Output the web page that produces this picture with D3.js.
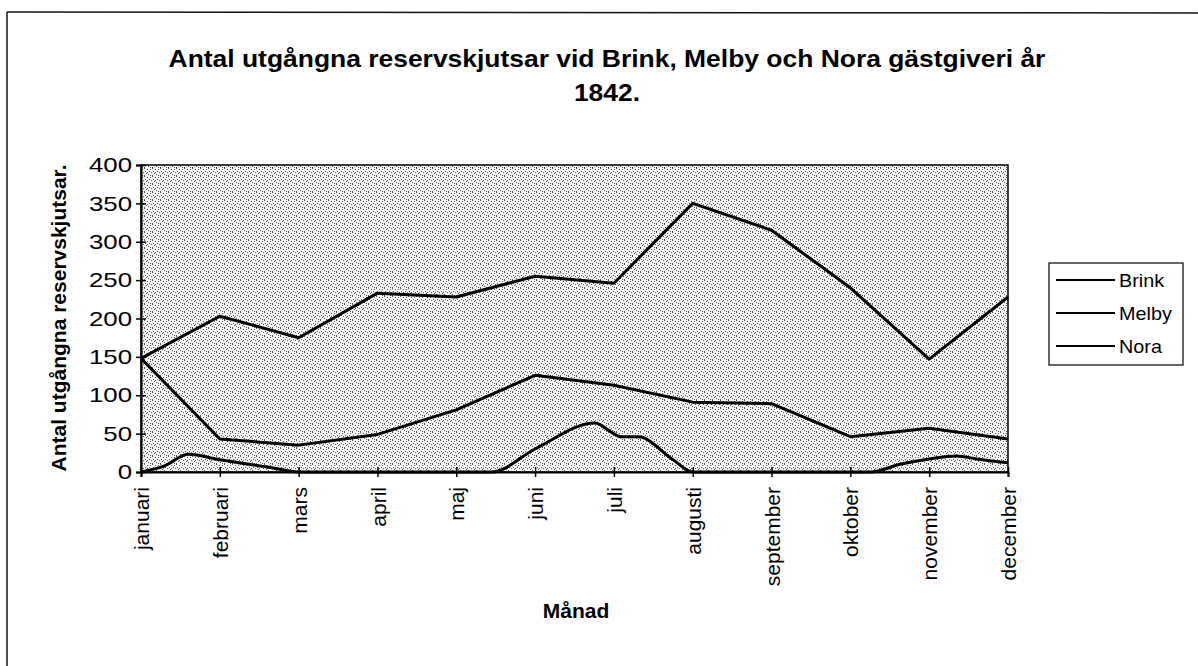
<!DOCTYPE html>
<html>
<head>
<meta charset="utf-8">
<script src="https://cdn.jsdelivr.net/npm/d3@7"></script>
<style>
  body { margin: 0; background: #fff; }
  text { font-family: Arial, "Liberation Sans", sans-serif; fill: #000; }
</style>
</head>
<body>
<script>
// months on the x axis
const months = ["januari", "februari", "mars", "april", "maj", "juni",
                "juli", "augusti", "september", "oktober", "november", "december"];
const yTicks = [0, 50, 100, 150, 200, 250, 300, 350, 400];

// monthly values
const brink = [148, 203, 175, 233, 228, 255, 246, 350, 315, 240, 147, 228];
const melby = [148, 43, 35, 49, 81, 126, 113, 91, 89, 46, 57, 43];

// Nora is drawn through extra points between the months (month index, value)
const noraPos = [0, 0.3, 0.6, 1, 1.64, 2, 3, 4, 4.45, 5, 5.76, 5.98, 6.08, 6.31, 6.75, 7, 8, 9, 9.25, 9.63, 10, 10.35, 10.6, 11];
const noraVal = [0, 8, 23, 16, 6, 0, 0, 0, 0, 30, 64, 51, 46, 46, 16, 0, 0, 0, 0, 10, 17, 21, 17, 12];

const seriesNames = ["Brink", "Melby", "Nora"];

const W = 1198, H = 666;
const plotL = 141, plotR = 1008, plotT = 165, plotB = 472;

const svg = d3.select("body").append("svg")
    .attr("width", W).attr("height", H);

// stipple background pattern (fixed dot layout)
const defs = svg.append("defs");
const pat = defs.append("pattern").attr("id", "stip")
    .attr("width", 8).attr("height", 8).attr("patternUnits", "userSpaceOnUse");
pat.append("rect").attr("width", 8).attr("height", 8).attr("fill", "#f7f7f7");
[[0, 0], [3, 1], [6, 1], [1, 3], [5, 3], [7, 4], [2, 5], [4, 6], [0, 7], [6, 7], [3, 4]].forEach(p => {
    pat.append("rect").attr("x", p[0]).attr("y", p[1])
        .attr("width", 1).attr("height", 1).attr("fill", "#555");
});

// outer frame (only top and left edges show in the scan)
svg.append("line").attr("x1", 7).attr("y1", 12).attr("x2", W).attr("y2", 13)
    .attr("stroke", "#111").attr("stroke-width", 1.5);
svg.append("line").attr("x1", 7).attr("y1", 12).attr("x2", 7).attr("y2", H)
    .attr("stroke", "#111").attr("stroke-width", 1.5);

// title (scan is wider than the font)
const sx = 1.15;
svg.append("text")
    .attr("transform", `scale(${sx},1)`)
    .attr("x", 607 / sx).attr("y", 67)
    .attr("text-anchor", "middle")
    .attr("font-size", 23).attr("font-weight", "bold")
    .text("Antal utgångna reservskjutsar vid Brink, Melby och Nora gästgiveri år");
svg.append("text")
    .attr("transform", `scale(${sx},1)`)
    .attr("x", 607 / sx).attr("y", 101)
    .attr("text-anchor", "middle")
    .attr("font-size", 23).attr("font-weight", "bold")
    .text("1842.");

const xBand = d3.scalePoint().domain(months).range([plotL, plotR]);
const x = d3.scaleLinear().domain([0, months.length - 1]).range([plotL, plotR]);
const y = d3.scaleLinear().domain([0, 400]).range([plotB, plotT]);

// plot area
svg.append("rect")
    .attr("x", plotL).attr("y", plotT)
    .attr("width", plotR - plotL).attr("height", plotB - plotT)
    .attr("fill", "url(#stip)")
    .attr("stroke", "#000").attr("stroke-width", 1.5);

// y axis
const tsx = 1.23;
const gy = svg.append("g").attr("transform", `translate(${plotL},0)`)
    .call(d3.axisLeft(y).tickValues(yTicks).tickSize(5).tickPadding(9));
gy.select(".domain").attr("stroke", "#000").attr("stroke-width", 2);
gy.selectAll(".tick line").attr("x1", 5).attr("stroke-width", 1.5);
gy.selectAll(".tick text")
    .attr("font-size", 21).attr("font-family", "Arial, 'Liberation Sans', sans-serif")
    .attr("x", -9 / tsx).attr("transform", `scale(${tsx},1)`);

// x axis
const gx = svg.append("g").attr("transform", `translate(0,${plotB})`)
    .call(d3.axisBottom(xBand).tickSize(5).tickPadding(14));
gx.select(".domain").attr("stroke", "#000").attr("stroke-width", 2);
gx.selectAll(".tick line").attr("y1", -5).attr("stroke-width", 1.5);
gx.selectAll(".tick text")
    .attr("font-size", 21).attr("font-family", "Arial, 'Liberation Sans', sans-serif")
    .attr("transform", "rotate(-90)")
    .attr("text-anchor", "end")
    .attr("x", -15).attr("y", 0).attr("dy", "0.36em");

// axis titles
svg.append("text")
    .attr("transform", `translate(66,318) rotate(-90)`)
    .attr("text-anchor", "middle")
    .attr("font-size", 21).attr("font-weight", "bold")
    .text("Antal utgångna reservskjutsar.");
svg.append("text")
    .attr("x", 576).attr("y", 618)
    .attr("text-anchor", "middle")
    .attr("font-size", 21).attr("font-weight", "bold")
    .text("Månad");

// lines
const line = d3.line().x(d => x(d[0])).y(d => y(d[1]));
const brinkPts = brink.map((v, i) => [i, v]);
const melbyPts = melby.map((v, i) => [i, v]);
const noraPts = noraPos.map((p, i) => [p, noraVal[i]]);

[brinkPts, melbyPts].forEach(pts => {
    svg.append("path").datum(pts)
        .attr("d", line)
        .attr("fill", "none").attr("stroke", "#000")
        .attr("stroke-width", 3).attr("stroke-linejoin", "round");
});
svg.append("path").datum(noraPts)
    .attr("d", line.curve(d3.curveMonotoneX))
    .attr("fill", "none").attr("stroke", "#000")
    .attr("stroke-width", 3).attr("stroke-linejoin", "round");

// legend
const lg = svg.append("g");
lg.append("rect")
    .attr("x", 1049).attr("y", 263).attr("width", 134).attr("height", 102)
    .attr("fill", "#fff").attr("stroke", "#000").attr("stroke-width", 1.2);
seriesNames.forEach((name, i) => {
    const ly = 280 + i * 33;
    lg.append("line")
        .attr("x1", 1056).attr("x2", 1115).attr("y1", ly).attr("y2", ly)
        .attr("stroke", "#000").attr("stroke-width", 2);
    lg.append("text")
        .attr("transform", "scale(1.1,1)")
        .attr("x", 1119 / 1.1).attr("y", ly + 7)
        .attr("font-size", 18)
        .text(name);
});
</script>
</body>
</html>
